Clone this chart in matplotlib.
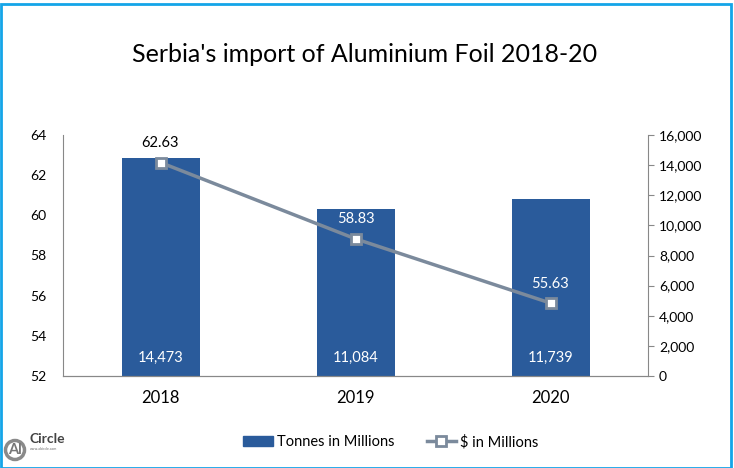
import matplotlib
matplotlib.use("Agg")
import matplotlib.pyplot as plt
from matplotlib.patches import Rectangle, Circle
from matplotlib.lines import Line2D

years = ["2018", "2019", "2020"]
tonnes = [14473, 11084, 11739]
dollars = [62.63, 58.83, 55.63]
tonne_labels = ["14,473", "11,084", "11,739"]

plt.rcParams['font.family'] = ['Lato', 'DejaVu Sans']

fig = plt.figure(figsize=(7.34, 4.68), dpi=100)
W, H = 734, 468
axL = fig.add_axes([63 / W, 1 - 376 / H, (648 - 63) / W, (376 - 135) / H])
axR = axL.twinx()
axL.set_zorder(2)
axL.patch.set_visible(False)

bar_color = "#2a5b9b"
line_color = "#7b8a9c"
x = list(range(len(years)))

axR.bar(x, tonnes, width=0.4, color=bar_color, zorder=1)
axR.set_ylim(0, 16000)
axR.set_yticks(range(0, 16001, 2000))
axR.set_yticklabels([f"{v:,}" for v in range(0, 16001, 2000)])

axL.plot(x, dollars, color=line_color, lw=2.5, marker="s", ms=7,
         mfc="white", mec=line_color, mew=2, zorder=3)
axL.set_ylim(52, 64)
axL.set_yticks(range(52, 65, 2))
axL.set_xlim(-0.5, 2.5)
axL.set_xticks(x)
axL.set_xticklabels(years, fontsize=12)

for ax in (axL, axR):
    ax.spines["top"].set_visible(False)
    ax.spines["left"].set_color("#888888")
    ax.spines["right"].set_color("#888888")
    ax.spines["bottom"].set_color("#888888")
axL.spines["right"].set_visible(False)
axR.spines["left"].set_visible(False)
axL.tick_params(axis="y", length=0, labelsize=10, pad=12)
axL.tick_params(axis="x", length=0, pad=10)
axR.tick_params(axis="y", length=4, color="#888888", labelsize=10, pad=4)

# line labels
for i, v in enumerate(dollars):
    bar_top_left = tonnes[i] / 16000 * 12 + 52
    col = "black" if v + 1.2 > bar_top_left else "white"
    axL.annotate(f"{v:.2f}", (i, v), xytext=(0, 9), textcoords="offset points",
                 ha="center", va="bottom", fontsize=10.5, color=col, zorder=4)
# bar labels
for i, t in enumerate(tonne_labels):
    axR.annotate(t, (i, 0), xytext=(0, 8), textcoords="offset points",
                 ha="center", va="bottom", fontsize=10.5, color="white")

fig.text(0.5 - 2 / W, 1 - 55 / H, "Serbia's import of Aluminium Foil 2018-20",
         ha="center", va="center", fontsize=18)

handles = [Rectangle((0, 0), 1, 1, color=bar_color),
           Line2D([0], [0], color=line_color, lw=2.5, marker="s", ms=7,
                  mfc="white", mec=line_color, mew=2)]
fig.legend(handles, ["Tonnes in Millions", "$ in Millions"],
           loc="center", bbox_to_anchor=(391 / W, 1 - 442 / H), ncol=2,
           frameon=False, fontsize=10.5, columnspacing=2.2, handlelength=2.0,
           handletextpad=0.3)

# logo
logo_ax = fig.add_axes([4 / W, 1 - 466 / H, 62 / W, 42 / H])
logo_ax.set_xlim(0, 62)
logo_ax.set_ylim(0, 42)
logo_ax.axis("off")
logo_ax.add_patch(Circle((11, 16), 9.5, fill=False, ec="#8a8a8a", lw=2.5,
                         clip_on=False))
logo_ax.text(11, 16, "Al", ha="center", va="center", fontsize=10.5,
             color="#777777", fontweight="bold")
logo_ax.text(25, 27, "Circle", ha="left", va="center", fontsize=10,
             color="#444444", fontweight="bold")
logo_ax.text(26, 17, "www.alcircle.com", ha="left", va="center", fontsize=2.5,
             color="#666666")

# border
fig.patches.append(Rectangle((0.5 / W, 0.5 / H), 1 - 4 / W, 1 - 4 / H,
                             transform=fig.transFigure, fill=False,
                             ec="#14a5e8", lw=2))

fig.savefig("out.png", dpi=100)
